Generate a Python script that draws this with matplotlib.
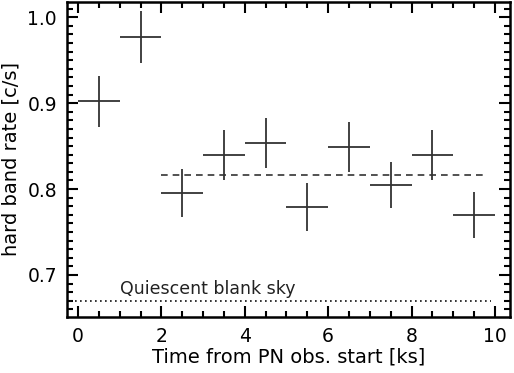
import matplotlib
matplotlib.use("Agg")
import matplotlib.pyplot as plt
from matplotlib.ticker import MultipleLocator

time_ks = [0.5, 1.5, 2.5, 3.5, 4.5, 5.5, 6.5, 7.5, 8.5, 9.5]
rate = [0.902, 0.977, 0.795, 0.840, 0.854, 0.779, 0.849, 0.805, 0.840, 0.770]
rate_err = [0.030, 0.030, 0.028, 0.029, 0.029, 0.028, 0.029, 0.027, 0.029, 0.027]
bin_halfwidth = [0.5] * 10
mean_rate = 0.816
mean_x = [2.0, 9.8]
quiescent = 0.670
quiescent_x = [-0.2, 9.9]

plt.rcParams['font.family'] = ['DejaVu Sans']
fig = plt.figure(figsize=(5.14, 3.73), dpi=100)
ax = fig.add_axes([0.130, 0.150, 0.862, 0.845])

ax.errorbar(time_ks, rate, xerr=bin_halfwidth, yerr=rate_err, fmt='none',
            ecolor='#333333', elinewidth=1.3, capsize=0)
ax.plot(mean_x, [mean_rate, mean_rate], linestyle=(0, (4, 3)), color='#333333', lw=1.2)
ax.plot(quiescent_x, [quiescent, quiescent], linestyle=(0, (1, 2)), color='#111111', lw=1.2)
ax.text(1.0, 0.678, "Quiescent blank sky", fontsize=12.5, color='#222222')

ax.set_xlim(-0.27, 10.36)
ax.set_ylim(0.651, 1.018)
ax.xaxis.set_major_locator(MultipleLocator(2))
ax.xaxis.set_minor_locator(MultipleLocator(0.5))
ax.yaxis.set_major_locator(MultipleLocator(0.1))
ax.yaxis.set_minor_locator(MultipleLocator(0.01))
ax.yaxis.set_major_formatter(matplotlib.ticker.FormatStrFormatter('%.1f'))
ax.tick_params(which='both', direction='in', top=True, right=True, color='black', width=1.5)
ax.tick_params(which='major', length=8, labelsize=13.5, pad=7)
ax.tick_params(which='minor', length=4)
for s in ax.spines.values():
    s.set_linewidth(1.8)
ax.set_xlabel("Time from PN obs. start [ks]", fontsize=14, labelpad=1)
ax.set_ylabel("hard band rate [c/s]", fontsize=14, labelpad=5)

fig.savefig("out.png", dpi=100)
